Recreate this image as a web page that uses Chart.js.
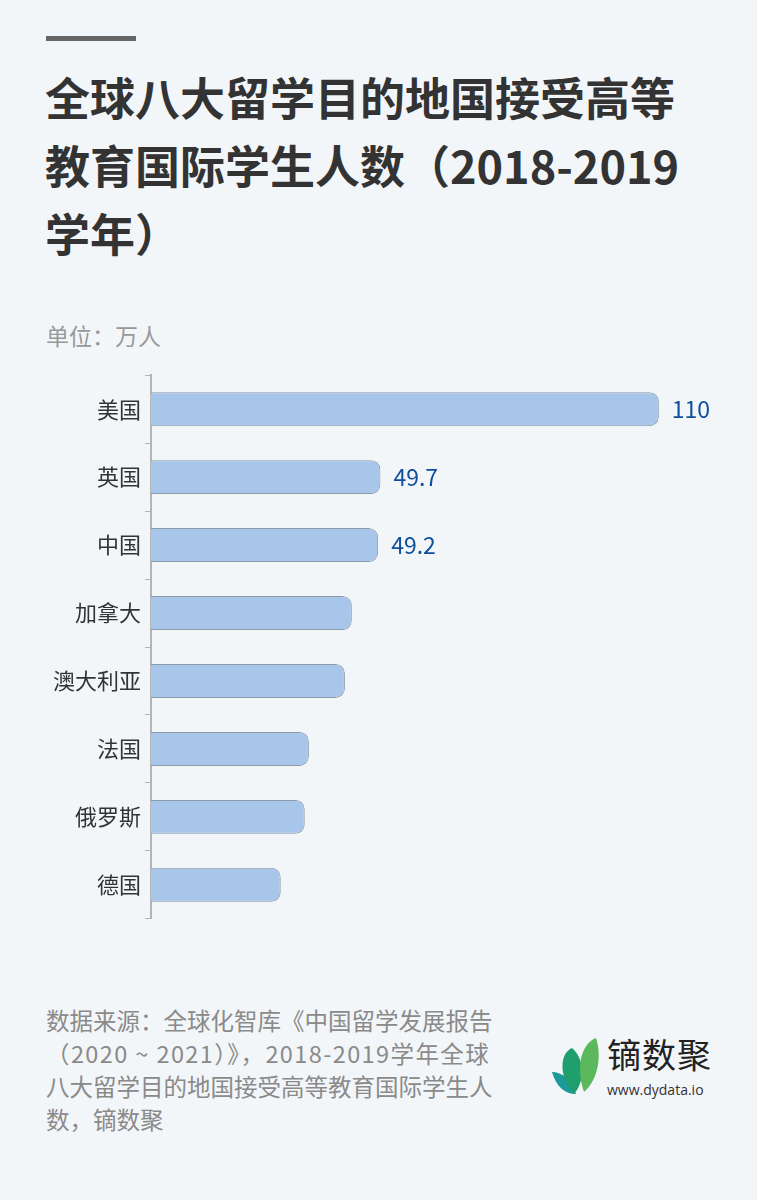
<!DOCTYPE html>
<html>
<head>
<meta charset="utf-8">
<script src="https://cdn.jsdelivr.net/npm/chart.js@4"></script>
<style>
 body{margin:0;background:#f3f6f9;font-family:"Noto Sans CJK SC","Noto Sans",sans-serif}
 #page{position:relative;width:757px;height:1200px;overflow:hidden}
 .topbar{position:absolute;left:46px;top:36px;width:90px;height:5px;background:#666}
 .title{position:absolute;left:45px;top:63px;font-size:45px;font-weight:700;line-height:68px;color:#333;margin:0;white-space:nowrap}
 .unit{position:absolute;left:46px;top:318px;font-size:23px;color:#999}
 #wrap{position:absolute;left:0;top:358px;width:757px;height:578px}
 .foot{position:absolute;left:46px;top:1004px;font-size:23.5px;line-height:33px;color:#8a8a8a;white-space:nowrap}
 .foot .wide{letter-spacing:1.4px}
 .logo{position:absolute;left:550px;top:1036px}
 .logo .nm{position:absolute;left:57px;top:-7px;font-size:34px;color:#222;letter-spacing:1px;white-space:nowrap}
 .logo .url{position:absolute;left:57px;top:44px;font-size:14px;color:#333;white-space:nowrap;font-family:"Open Sans",sans-serif}
</style>
</head>
<body>
<div id="page">
 <div class="topbar"></div>
 <div class="title">全球八大留学目的地国接受高等<br>教育国际学生人数（2018-2019<br>学年）</div>
 <div class="unit">单位：万人</div>
 <div id="wrap"><canvas id="c"></canvas></div>
 <div class="foot">数据来源：全球化智库《中国留学发展报告<br><span class="wide">（2020 ~ 2021）》，2018-2019学年全球</span><br>八大留学目的地国接受高等教育国际学生人<br>数，镝数聚</div>
 <div class="logo">
  <svg width="52" height="62" viewBox="0 0 52 62">
   <path d="M2 36 C12 36 22 44 26 58 C14 58 6 50 2 36 Z" fill="#1a9a9a"/>
   <path d="M22 12 C8 18 10 44 24 58 C36 44 34 22 22 12 Z" fill="#1f9e6e"/>
   <path d="M46 2 C30 8 26 34 34 56 C48 44 52 20 46 2 Z" fill="#5cb85c"/>
  </svg>
  <div class="nm">镝数聚</div>
  <div class="url">www.dydata.io</div>
 </div>
</div>
<script>
const countries=['美国','英国','中国','加拿大','澳大利亚','法国','俄罗斯','德国'];
const students=[110,49.7,49.2,43.5,42.0,34.2,33.3,28.1];
const shownLabels=['110','49.7','49.2','','','','',''];

const valueLabels={
 id:'valueLabels',
 afterDatasetsDraw(chart){
  const ctx=chart.ctx;
  ctx.save();
  ctx.font='23px "Noto Sans CJK SC","Noto Sans",sans-serif';
  ctx.fillStyle='#0d4f9c';
  ctx.textBaseline='middle';
  chart.getDatasetMeta(0).data.forEach((bar,i)=>{
   if(!shownLabels[i])return;
   ctx.fillText(shownLabels[i],bar.x+13,bar.y);
  });
  ctx.restore();
 }
};

new Chart(document.getElementById('c'),{
 type:'bar',
 data:{labels:countries,datasets:[{
  data:students,
  backgroundColor:'#a8c6ea',
  borderColor:'#8d9aa8',
  borderWidth:1,
  borderSkipped:'start',
  borderRadius:{topRight:9,bottomRight:9,topLeft:0,bottomLeft:0},
  barPercentage:0.5,
  categoryPercentage:1
 }]},
 options:{
  indexAxis:'y',
  responsive:true,
  maintainAspectRatio:false,
  animation:false,
  layout:{padding:{left:0,right:52,top:0,bottom:0}},
  plugins:{legend:{display:false},tooltip:{enabled:false}},
  scales:{
   x:{display:false,min:0,max:120},
   y:{
    afterFit(s){s.width=151},
    border:{color:'#b5b5b5',width:2},
    grid:{drawOnChartArea:false,tickLength:6,color:'#b5b5b5'},
    ticks:{color:'#333',padding:4,font:{size:22,family:'"Noto Sans CJK SC","Noto Sans",sans-serif'}}
   }
  }
 },
 plugins:[valueLabels]
});
</script>
</body>
</html>
